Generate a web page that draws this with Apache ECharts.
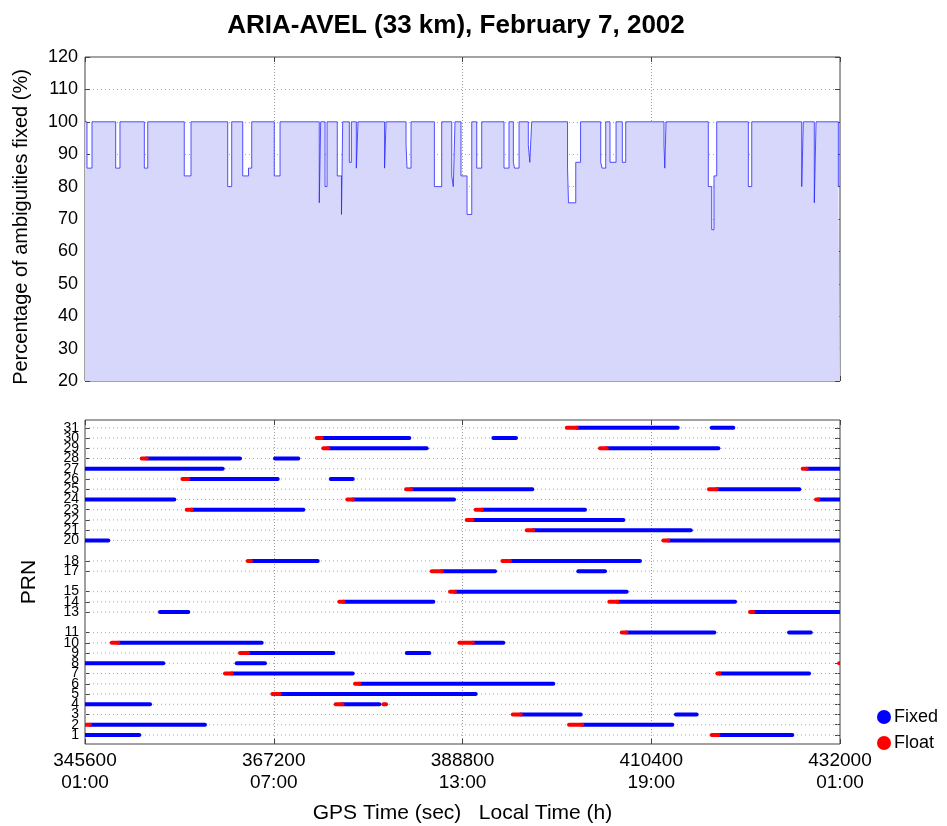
<!DOCTYPE html>
<html>
<head>
<meta charset="utf-8">
<script src="https://cdn.jsdelivr.net/npm/echarts@6/dist/echarts.min.js"></script>
<style>
  html, body { margin: 0; padding: 0; background: #fff; }
  #chart { width: 947px; height: 826px; }
</style>
</head>
<body>
<div id="chart"></div>
<script>
// GPS seconds of week at the x ticks and the matching local time
const timeTicks = [345600, 367200, 388800, 410400, 432000];
const localTicks = ['01:00', '07:00', '13:00', '19:00', '01:00'];

// Fixed-ambiguity percentage, held from each time until the next one
const ratioTime = [
  345600, 345830, 346400, 349110, 349600, 352390, 352780, 356960, 357730,
  361930, 362390, 363650, 364310, 364680, 367260, 367920, 372410, 372570,
  373070, 373300, 374470, 374950, 375090, 375850, 376080, 376650, 376840,
  379880, 380050, 382340, 382450, 382910, 385580, 386420, 387570, 387750,
  387940, 388630, 389320, 389860, 390430, 391000, 393550, 394120, 394620,
  394750, 395270, 396330, 396500, 396720, 400820, 400930, 401760, 402310,
  404620, 404770, 405190, 405680, 406370, 407090, 407480, 411860, 411950,
  412090, 416930, 417320, 417580, 417890, 421510, 421900, 427620, 427800,
  429060, 429260, 431810, 432000
];
const ratioPct = [
  100, 85.7, 100, 85.7, 100, 85.7, 100, 83.3, 100,
  80, 100, 83.3, 85.7, 100, 83.3, 100, 75, 100,
  80, 100, 83.3, 71.4, 100, 87.5, 100, 85.7, 100,
  85.7, 100, 92.9, 85.7, 100, 80, 100, 83.3, 80,
  100, 83.3, 71.4, 100, 85.7, 100, 85.7, 100, 87.5,
  85.7, 100, 92.9, 87.5, 100, 85.7, 75, 87.5, 100,
  87.5, 85.7, 100, 87.5, 100, 87.5, 100, 92.9, 85.7,
  100, 80, 66.7, 83.3, 100, 80, 100, 80, 100,
  75, 100, 80, 80
];

// Satellites tracked (rows of the lower panel)
const prnList = [1, 2, 3, 4, 5, 6, 7, 8, 9, 10, 11, 13, 14, 15, 17, 18,
  20, 21, 22, 23, 24, 25, 26, 27, 28, 29, 30, 31];

// Arcs per satellite: [PRN, arc start, ambiguity fixed from, arc end] (GPS sec)
const arcs = [
  [1, 345600, 345600, 351810], [1, 417320, 418080, 426540],
  [2, 345600, 346170, 359330], [2, 400990, 402510, 412810],
  [3, 394550, 395460, 402330], [3, 413230, 413230, 415600],
  [4, 345600, 345600, 353040], [4, 374290, 375050, 379280], [4, 379740, 380050, 380050],
  [5, 367040, 367920, 390310],
  [6, 376500, 376990, 399190],
  [7, 361620, 362390, 376240], [7, 417960, 418190, 428460],
  [8, 345600, 345600, 354560], [8, 362960, 362960, 366200], [8, 431900, 432000, 432000],
  [9, 363340, 364290, 374020], [9, 382420, 382420, 385000],
  [10, 348660, 349410, 365820], [10, 388440, 389970, 393470],
  [11, 407020, 407550, 417620], [11, 426170, 426170, 428650],
  [13, 354180, 354180, 357420], [13, 421700, 422080, 432000],
  [14, 374700, 375160, 385460], [14, 405600, 406540, 419990],
  [15, 387370, 387940, 407590],
  [17, 385280, 386420, 392520], [17, 402050, 402050, 405110],
  [18, 364220, 364600, 372230], [18, 393360, 394240, 409110],
  [20, 345600, 345600, 348270], [20, 411780, 412350, 432000],
  [21, 396150, 396900, 414920],
  [22, 389280, 389970, 407200],
  [23, 357240, 357810, 370580], [23, 390310, 391000, 402820],
  [24, 345600, 345600, 355820], [24, 375620, 376240, 387830], [24, 429260, 429520, 432000],
  [25, 382340, 382910, 396790], [25, 417010, 417890, 427350],
  [26, 356740, 357420, 367650], [26, 373720, 373720, 376240],
  [27, 345600, 345600, 361360], [27, 427730, 428190, 432000],
  [28, 352090, 352660, 363340], [28, 367340, 367340, 370010],
  [29, 372870, 373440, 384700], [29, 404540, 405300, 418080],
  [30, 372120, 372690, 382710], [30, 392330, 392330, 394920],
  [31, 400730, 401870, 413430], [31, 417320, 417320, 419790]
];

const FONT = '"Liberation Sans", Arial, Helvetica, sans-serif';
const AXIS_COLOR = '#444';

const floatData = arcs.filter(a => a[2] > a[1]).map(a => [a[1], a[2], a[0]]);
const fixedData = arcs.filter(a => a[3] > a[2]).map(a => [a[2], a[3], a[0]]);
const ratioData = ratioTime.map((t, i) => [t, ratioPct[i]]);
const rowData = prnList.map(p => [timeTicks[0], timeTicks[timeTicks.length - 1], p]);
// PRN labels split over two stacked axes so that neighbours are never auto-hidden
const prnLabelsA = prnList.filter((p, i) => i % 2 === 0);
const prnLabelsB = prnList.filter((p, i) => i % 2 === 1);

// One tracking arc as a thick horizontal stroke
function renderArc(params, api) {
  const p0 = api.coord([api.value(0), api.value(2)]);
  const p1 = api.coord([api.value(1), api.value(2)]);
  return {
    type: 'line',
    shape: { x1: p0[0], y1: p0[1], x2: p1[0], y2: p1[1] },
    style: { stroke: api.visual('color'), lineWidth: 4, lineCap: 'round' }
  };
}

// Dotted guide line for each PRN row
function renderRow(params, api) {
  const p0 = api.coord([api.value(0), api.value(2)]);
  const p1 = api.coord([api.value(1), api.value(2)]);
  return {
    type: 'line',
    shape: { x1: p0[0], y1: p0[1], x2: p1[0], y2: p1[1] },
    style: { stroke: '#aaa', lineWidth: 1, lineDash: [1, 3] }
  };
}

function timeAxis(gridIndex, opts) {
  return Object.assign({
    type: 'value', gridIndex: gridIndex,
    min: 345600, max: 432000, interval: 21600,
    axisLine: { show: false },
    axisTick: { show: true, inside: true, length: 5, lineStyle: { color: AXIS_COLOR } },
    axisLabel: { show: false },
    splitLine: { show: false }
  }, opts);
}

function prnAxis(labels, opts) {
  return Object.assign({
    type: 'value', gridIndex: 1, min: 0.12, max: 31.76, position: 'left', offset: 0,
    axisLine: { show: false },
    axisTick: { show: true, inside: true, length: 5, customValues: labels, lineStyle: { color: AXIS_COLOR } },
    axisLabel: {
      color: '#000', fontFamily: FONT, fontSize: 14, lineHeight: 10, margin: 6,
      customValues: labels, showMinLabel: true, showMaxLabel: true
    },
    splitLine: { show: false }
  }, opts);
}

const chart = echarts.init(document.getElementById('chart'), null, { renderer: 'canvas' });

chart.setOption({
  animation: false,
  backgroundColor: '#fff',
  textStyle: { fontFamily: FONT },
  title: {
    text: 'ARIA-AVEL (33 km), February 7, 2002',
    left: 451, top: 8, textAlign: 'center',
    textStyle: { fontFamily: FONT, fontSize: 26, fontWeight: 'bold', color: '#000' }
  },
  legend: {
    orient: 'vertical', left: 872, top: 703,
    itemWidth: 14, itemHeight: 14, itemGap: 8,
    icon: 'circle',
    data: ['Fixed', 'Float'],
    textStyle: { fontFamily: FONT, fontSize: 18, color: '#000', padding: [0, 0, 0, -2] }
  },
  grid: [
    { left: 85, top: 57, width: 755, height: 324, show: true, borderColor: AXIS_COLOR, borderWidth: 1, backgroundColor: '#fff' },
    { left: 85, top: 420, width: 755, height: 324, show: true, borderColor: AXIS_COLOR, borderWidth: 1, backgroundColor: '#fff' }
  ],
  xAxis: [
    timeAxis(0, { splitLine: { show: true, lineStyle: { color: '#999', type: [1, 2], width: 1 } } }),
    timeAxis(0, { position: 'top' }),
    timeAxis(1, {
      splitLine: { show: true, lineStyle: { color: '#999', type: [1, 2], width: 1 } },
      name: 'GPS Time (sec)   Local Time (h)',
      nameLocation: 'middle', nameGap: 59,
      nameTextStyle: { fontFamily: FONT, fontSize: 21, color: '#000' },
      axisLabel: {
        show: true, margin: 6, color: '#000', fontFamily: FONT, fontSize: 19, lineHeight: 22,
        formatter: v => {
          const i = timeTicks.indexOf(v);
          return i < 0 ? '' : v + '\n' + localTicks[i];
        }
      }
    }),
    timeAxis(1, { position: 'top' })
  ],
  yAxis: [
    {
      type: 'value', gridIndex: 0, min: 20, max: 120, interval: 10,
      name: 'Percentage of ambiguities fixed (%)',
      nameLocation: 'middle', nameGap: 54,
      nameTextStyle: { fontFamily: FONT, fontSize: 20, color: '#000', padding: [0, 16, 0, 0] },
      axisLine: { show: false },
      axisTick: { show: true, inside: true, length: 5, lineStyle: { color: AXIS_COLOR } },
      axisLabel: { color: '#000', fontFamily: FONT, fontSize: 18, margin: 7 },
      splitLine: { show: true, lineStyle: { color: '#aaa', type: [1, 3], width: 1 } }
    },
    {
      type: 'value', gridIndex: 0, min: 20, max: 120, interval: 10, position: 'right',
      axisLine: { show: false },
      axisTick: { show: true, inside: true, length: 5, lineStyle: { color: AXIS_COLOR } },
      axisLabel: { show: false }, splitLine: { show: false }
    },
    prnAxis(prnLabelsA, {
      name: 'PRN', nameLocation: 'middle', nameGap: 45,
      nameTextStyle: { fontFamily: FONT, fontSize: 21, color: '#000' }
    }),
    prnAxis(prnLabelsB, {}),
    {
      type: 'value', gridIndex: 1, min: 0.12, max: 31.76, position: 'right',
      axisLine: { show: false },
      axisTick: { show: true, inside: true, length: 5, customValues: prnList, lineStyle: { color: AXIS_COLOR } },
      axisLabel: { show: false }, splitLine: { show: false }
    }
  ],
  series: [
    {
      name: 'ratio', type: 'line', xAxisIndex: 0, yAxisIndex: 0,
      step: 'end', showSymbol: false, symbol: 'none',
      data: ratioData,
      lineStyle: { color: 'rgba(40,40,255,0.8)', width: 1 },
      areaStyle: { color: 'rgb(215,215,251)', origin: 'start', opacity: 1 },
      z: 2
    },
    {
      name: 'rows', type: 'custom', xAxisIndex: 2, yAxisIndex: 2,
      renderItem: renderRow, data: rowData, silent: true,
      encode: { x: [0, 1], y: 2 }, z: 1
    },
    {
      name: 'Fixed', type: 'custom', xAxisIndex: 2, yAxisIndex: 2,
      renderItem: renderArc, data: fixedData,
      encode: { x: [0, 1], y: 2 },
      itemStyle: { color: '#0000ff' }, clip: true, z: 3
    },
    {
      name: 'Float', type: 'custom', xAxisIndex: 2, yAxisIndex: 2,
      renderItem: renderArc, data: floatData,
      encode: { x: [0, 1], y: 2 },
      itemStyle: { color: '#ff0000' }, clip: true, z: 4
    }
  ]
});
</script>
</body>
</html>
